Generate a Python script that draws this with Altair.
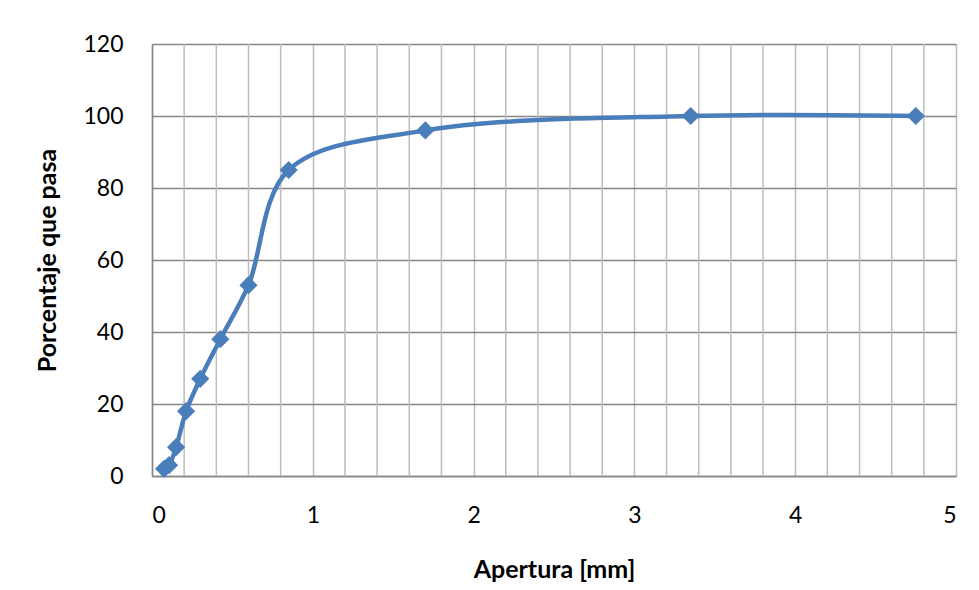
import altair as alt
import pandas as pd

apertura = [0.075, 0.106, 0.15, 0.212, 0.3, 0.425, 0.6, 0.85, 1.7, 3.35, 4.75]
porcentaje = [2, 3, 8, 18, 27, 38, 53, 85, 96, 100, 100]
x_ticks = [0, 1, 2, 3, 4, 5]
y_ticks = [0, 20, 40, 60, 80, 100, 120]
minor_vals = [0.2, 0.4, 0.6, 0.8, 1.2, 1.4, 1.6, 1.8, 2.2, 2.4, 2.6, 2.8,
              3.2, 3.4, 3.6, 3.8, 4.2, 4.4, 4.6, 4.8]

df = pd.DataFrame({"apertura": apertura, "porcentaje": porcentaje})

COLOR = "#4a7ebb"
FONT = "Lato"
XTITLE = "Apertura [mm]"

xscale = alt.Scale(domain=[0, 5], nice=False, zero=True, padding=0)
yscale = alt.Scale(domain=[0, 120], nice=False, padding=0)

xaxis = alt.Axis(title=XTITLE, values=x_ticks, format="d",
                 gridColor="#bdbdbd", gridWidth=1.5,
                 domainColor="#868686", domainWidth=1.5, ticks=False,
                 labelFontSize=23, labelPadding=28, labelColor="#000",
                 titleFontSize=25, titleFontWeight="bold", titlePadding=30,
                 titleColor="#000", labelFont=FONT, titleFont=FONT)
x = alt.X("apertura:Q", scale=xscale, axis=xaxis, title=XTITLE)
y = alt.Y("porcentaje:Q", scale=yscale,
          axis=alt.Axis(title="Porcentaje que pasa", values=y_ticks, format="d",
                        gridColor="#868686", gridWidth=1.5,
                        domainColor="#868686", domainWidth=1.5, ticks=False,
                        labelFontSize=23, labelPadding=29, labelColor="#000",
                        titleFontSize=25, titleFontWeight="bold", titlePadding=22,
                        titleColor="#000", labelFont=FONT, titleFont=FONT))

minor = alt.Chart(pd.DataFrame({"v": minor_vals})).mark_rule(
    color="#bdbdbd", strokeWidth=1.5).encode(x=alt.X("v:Q", scale=xscale, axis=xaxis, title=XTITLE))

base = alt.Chart(df)
line = base.mark_line(color=COLOR, strokeWidth=4.5, interpolate="catmull-rom").encode(x=x, y=y)
pts = base.mark_point(shape="diamond", filled=True, size=330, color=COLOR, opacity=1).encode(x=x, y=y)

chart = alt.layer(minor, line, pts).resolve_scale(x="shared").properties(
    width=804, height=432,
    padding={"left": 152, "top": 44, "right": 23, "bottom": 114},
    autosize="none",
).configure_view(stroke="#868686", strokeWidth=1.5).configure(background="white")

chart.save("out.html", embed_options={"renderer": "svg", "actions": False})
